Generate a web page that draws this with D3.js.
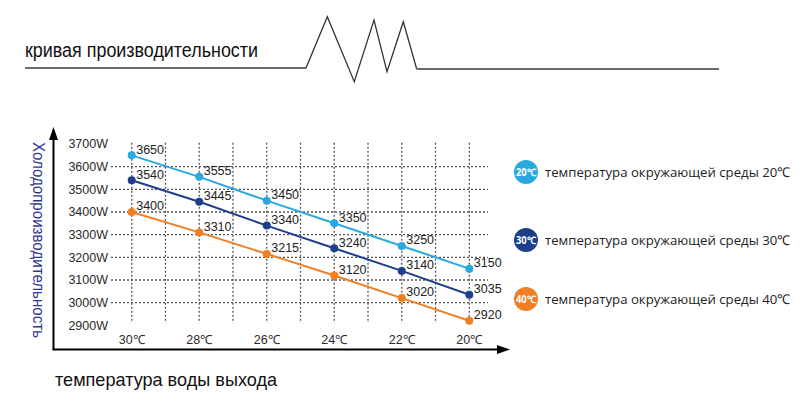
<!DOCTYPE html>
<html><head><meta charset="utf-8">
<script src="https://cdn.jsdelivr.net/npm/d3@7"></script>
<style>body{margin:0;background:#fff}svg{display:block}</style>
</head><body><svg id="c" width="800" height="396"></svg>
<script>
const categories = ["30℃","28℃","26℃","24℃","22℃","20℃"];
const waterTemps = [30,28,26,24,22,20];
const seriesNames = ["температура окружающей среды 20℃","температура окружающей среды 30℃","температура окружающей среды 40℃"];
const badgeLabels = ["20℃","30℃","40℃"];
const series20 = [3650,3555,3450,3350,3250,3150];
const series30 = [3540,3445,3340,3240,3140,3035];
const series40 = [3400,3310,3215,3120,3020,2920];
const yTicks = [2900,3000,3100,3200,3300,3400,3500,3600,3700];
const gridY = [3000,3100,3200,3300,3400,3500,3600];
const gridX = [30,29,28,27,26,25,24,23,22,21,20];
const colors = ["#2aa9e0","#1d3f8b","#f07f23"];

const svg = d3.select("#c");
const x = d3.scaleLinear().domain([30,20]).range([131.7,469.3]);
const y = d3.scaleLinear().domain([2900,3700]).range([325.3,144]);
const font = "Arial, 'Liberation Sans', sans-serif";

// header
svg.append("text").attr("x",25).attr("y",56.5).attr("font-family",font).attr("font-size",19.5)
  .attr("fill","#111").attr("textLength",233).attr("lengthAdjust","spacingAndGlyphs").text("кривая производительности");
svg.append("line").attr("x1",25).attr("x2",306).attr("y1",68).attr("y2",68).attr("stroke","#6a6a6a").attr("stroke-width",2);
svg.append("polyline").attr("points","306,68 327.3,16.7 354.3,81.7 374,20 387,71.7 403.3,21.7 416.7,69")
  .attr("fill","none").attr("stroke","#333").attr("stroke-width",1.3);
svg.append("line").attr("x1",416.7).attr("x2",719).attr("y1",69).attr("y2",69).attr("stroke","#6a6a6a").attr("stroke-width",2);

// grid
const g = svg.append("g");
g.selectAll(".hg").data(gridY).join("line")
  .attr("x1",111).attr("x2",488).attr("y1",d=>y(d)).attr("y2",d=>y(d))
  .attr("stroke","#555").attr("stroke-width",1.3).attr("stroke-dasharray","2,2");
g.selectAll(".vg").data(gridX).join("line")
  .attr("x1",d=>x(d)).attr("x2",d=>x(d)).attr("y1",y(3705)).attr("y2",y(2910))
  .attr("stroke","#555").attr("stroke-width",1.3).attr("stroke-dasharray","2,2");

// y tick labels
svg.selectAll(".yt").data(yTicks).join("text")
  .attr("x",108).attr("y",d=>y(d)).attr("dy","0.35em").attr("text-anchor","end")
  .attr("font-family",font).attr("font-size",12.5).attr("fill","#2a2a2a").text(d=>d+"W");
// x tick labels
svg.selectAll(".xt").data(waterTemps).join("text")
  .attr("x",d=>x(d)).attr("y",344).attr("text-anchor","middle")
  .attr("font-family",font).attr("font-size",12.5).attr("fill","#2a2a2a").text((d,i)=>categories[i]);

// axes
svg.append("line").attr("x1",53.5).attr("x2",53.5).attr("y1",350).attr("y2",136).attr("stroke","#000").attr("stroke-width",2);
svg.append("path").attr("d","M53.5,127 L49,140 L58,140 Z").attr("fill","#000");
svg.append("line").attr("x1",52.5).attr("x2",500).attr("y1",349.5).attr("y2",349.5).attr("stroke","#000").attr("stroke-width",2);
svg.append("path").attr("d","M510,349.5 L497,345 L497,354 Z").attr("fill","#000");

// axis titles
svg.append("text").attr("transform","translate(33,240) rotate(90)").attr("text-anchor","middle")
  .attr("font-family",font).attr("font-size",16).attr("fill","#2b3990")
  .attr("textLength",196).attr("lengthAdjust","spacingAndGlyphs").text("Холодопроизводительность");
svg.append("text").attr("x",55).attr("y",386).attr("font-family",font).attr("font-size",19)
  .attr("fill","#111").attr("textLength",222).attr("lengthAdjust","spacingAndGlyphs").text("температура воды выхода");

// series
const allSeries = [series20,series30,series40];
const line = d3.line().x((d,i)=>x(waterTemps[i])).y(d=>y(d));
allSeries.forEach((s,k)=>{
  svg.append("path").datum(s).attr("d",line).attr("fill","none").attr("stroke",colors[k]).attr("stroke-width",2);
  svg.selectAll(".p"+k).data(s).join("circle").attr("cx",(d,i)=>x(waterTemps[i])).attr("cy",d=>y(d))
    .attr("r",4).attr("fill",colors[k]);
  svg.selectAll(".l"+k).data(s).join("text").attr("x",(d,i)=>x(waterTemps[i])+4.5).attr("y",d=>y(d)-6)
    .attr("dy","0.35em").attr("font-family",font).attr("font-size",12.5).attr("fill","#222").text(d=>d);
});

// legend
const legY = [172,240,299];
seriesNames.forEach((n,k)=>{
  svg.append("circle").attr("cx",526).attr("cy",legY[k]).attr("r",12).attr("fill",colors[k]);
  svg.append("text").attr("x",526).attr("y",legY[k]).attr("dy","0.35em").attr("text-anchor","middle")
    .attr("font-family","'Open Sans', sans-serif").attr("font-size",10).attr("font-weight","bold")
    .attr("fill","#fff").attr("textLength",20).attr("lengthAdjust","spacingAndGlyphs").text(badgeLabels[k]);
  svg.append("text").attr("x",545).attr("y",legY[k]).attr("dy","0.35em")
    .attr("font-family","'Open Sans', sans-serif").attr("font-size",13.5).attr("fill","#222")
    .attr("textLength",245).attr("lengthAdjust","spacingAndGlyphs").text(n);
});
</script></body></html>
